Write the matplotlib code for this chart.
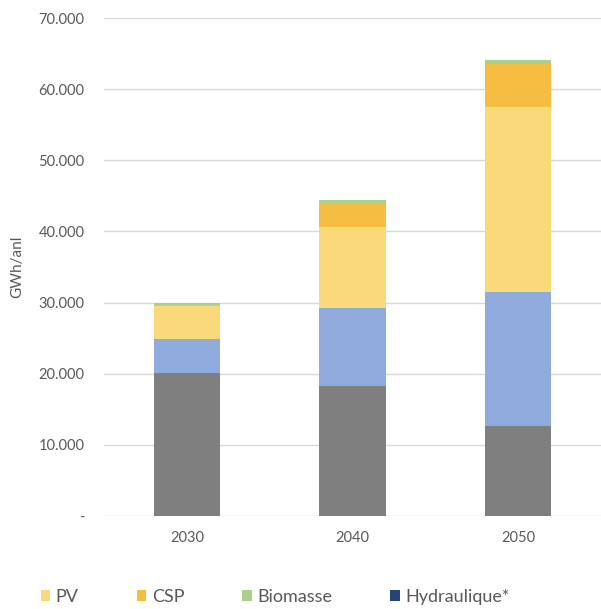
import matplotlib
matplotlib.use("Agg")
import matplotlib.pyplot as plt
from matplotlib.patches import Patch
from matplotlib.ticker import FuncFormatter

plt.rcParams['font.family'] = ['Lato', 'DejaVu Sans']

years = ["2030", "2040", "2050"]
autre_fossile = [20100, 18250, 12650]
eolien = [4800, 11000, 18850]
pv = [4650, 11400, 26000]
csp = [100, 3250, 6000]
biomasse = [350, 550, 600]
hydraulique = [0, 0, 0]

series = [
    ("_gris", autre_fossile, "#7f7f7f"),
    ("_bleu", eolien, "#8faadc"),
    ("PV", pv, "#fad97a"),
    ("CSP", csp, "#f5bd42"),
    ("Biomasse", biomasse, "#a9d18e"),
    ("Hydraulique*", hydraulique, "#264478"),
]
yticks = [0, 10000, 20000, 30000, 40000, 50000, 60000, 70000]

fig = plt.figure(figsize=(6.01, 6.09), dpi=100)
ax = fig.add_axes([104/601, 93/609, 497/601, 498/609])

x = list(range(len(years)))
bottom = [0]*len(years)
for name, vals, col in series:
    ax.bar(x, vals, width=0.4, bottom=bottom, color=col, zorder=3, linewidth=0)
    bottom = [b+v for b, v in zip(bottom, vals)]

ax.set_xlim(-0.5, 2.5)
ax.set_ylim(0, 70000)
ax.set_yticks(yticks)
ax.yaxis.set_major_formatter(FuncFormatter(lambda v, p: "-" if v == 0 else f"{int(v):,}".replace(",", ".")))
ax.set_xticks(x)
ax.set_xticklabels(years)
ax.grid(axis='y', color='#d9d9d9', linewidth=1, zorder=0)
for s in ax.spines.values():
    s.set_visible(False)
ax.tick_params(axis='both', length=0, colors='#595959', labelsize=10.5)
ax.tick_params(axis='y', pad=14)
ax.tick_params(axis='x', pad=11)
ax.set_ylabel("GWh/anl", color='#595959', fontsize=11, labelpad=10)

handles = [Patch(facecolor=c, edgecolor='none', label=n) for n, v, c in series if not n.startswith("_")]
fig.legend(handles=handles, loc='center', bbox_to_anchor=(0.458, 12/609), ncol=4, frameon=False,
           fontsize=13, handlelength=0.55, handleheight=0.55, handletextpad=0.3, columnspacing=3.2,
           labelcolor='#595959')

fig.savefig("out.png", dpi=100)
